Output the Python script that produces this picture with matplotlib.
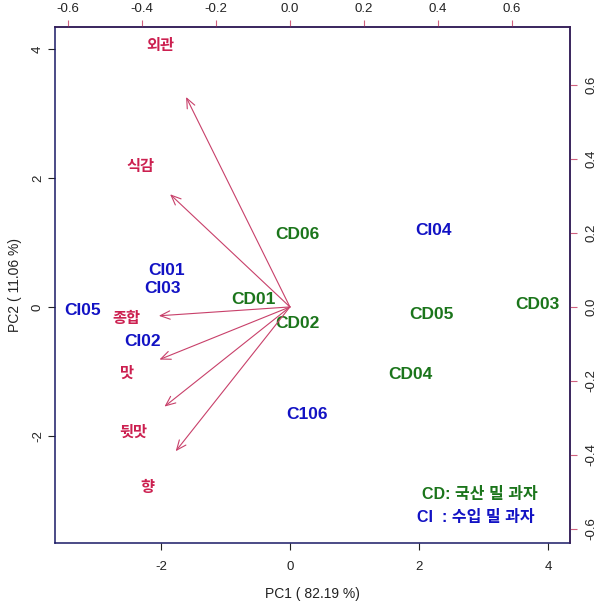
import matplotlib
matplotlib.use("Agg")
import matplotlib.pyplot as plt

plt.rcParams['font.family'] = ['Liberation Sans', 'Noto Sans CJK KR', 'DejaVu Sans']
plt.rcParams['axes.unicode_minus'] = False

# sample scores (PC1, PC2)
samples = ['CI05', 'CI01', 'CI03', 'CI02', 'CI04', 'C106',
           'CD06', 'CD01', 'CD02', 'CD05', 'CD04', 'CD03']
pc1 = [-3.21, -1.91, -1.98, -2.28, 2.22, 0.26,
       0.11, -0.57, 0.11, 2.19, 1.86, 3.84]
pc2 = [-0.05, 0.57, 0.29, -0.53, 1.19, -1.67,
       1.13, 0.12, -0.26, -0.12, -1.04, 0.03]
groups = ['CI', 'CI', 'CI', 'CI', 'CI', 'CI',
          'CD', 'CD', 'CD', 'CD', 'CD', 'CD']

# variable loadings
variables = ['외관', '식감', '종합', '맛', '뒷맛', '향']
load1 = [-0.351, -0.405, -0.443, -0.441, -0.424, -0.386]
load2 = [0.710, 0.381, -0.030, -0.178, -0.337, -0.488]

xlim = (-3.64, 4.34)
ylim = (-3.66, 4.34)
ratio = 5.73

green = '#1b751b'
blue = '#1212c4'
red = '#cc2050'
arrow_col = '#c8406a'
colors = {'CD': green, 'CI': blue}

fig = plt.figure(figsize=(6.06, 6.05), dpi=100)
pos = [55 / 606, 62 / 605, 515 / 606, 516 / 605]
ax = fig.add_axes(pos)
ax.set_xlim(xlim)
ax.set_ylim(ylim)
ax.set_xticks([-2, 0, 2, 4])
ax.set_yticks([-2, 0, 2, 4])
ax.tick_params(direction='out', length=5, width=0.8, labelsize=9.5,
               colors='#222222')
ax.tick_params(axis='x', pad=8)
ax.tick_params(axis='y', pad=3)
for lab in ax.get_yticklabels():
    lab.set_rotation(90)
    lab.set_va('center')
for s in ax.spines.values():
    s.set_color('#1a1a66')
    s.set_linewidth(1.1)
ax.set_xlabel('PC1 ( 82.19 %)', fontsize=10, color='#222222', labelpad=10)
ax.set_ylabel('PC2 ( 11.06 %)', fontsize=10, color='#222222', labelpad=7)

for name, x, y, g in zip(samples, pc1, pc2, groups):
    ax.text(x, y, name, color=colors[g], fontsize=12.5, fontweight='bold',
            ha='center', va='center')

ax.text(2.05, -2.91, 'CD: 국산 밀 과자', color=green, fontsize=11.5,
        fontweight='bold', ha='left', va='center')
ax.text(1.97, -3.26, 'CI  : 수입 밀 과자', color=blue, fontsize=11.5,
        fontweight='bold', ha='left', va='center')

# secondary axes for loadings
ax2 = fig.add_axes(pos, facecolor='none')
ax2.set_xlim(xlim[0] / ratio, xlim[1] / ratio)
ax2.set_ylim(ylim[0] / ratio, ylim[1] / ratio)
ax2.xaxis.tick_top()
ax2.yaxis.tick_right()
ticks2 = [-0.6, -0.4, -0.2, 0.0, 0.2, 0.4, 0.6]
ax2.set_xticks(ticks2)
ax2.set_yticks(ticks2)
ax2.set_xticklabels(['%.1f' % t for t in ticks2])
ax2.set_yticklabels(['%.1f' % t for t in ticks2])
ax2.tick_params(direction='out', length=5, width=0.8, labelsize=9.5,
                color='#d0607f', labelcolor='#222222', pad=6)
ax2.tick_params(axis='x', pad=4)
for lab in ax2.get_yticklabels():
    lab.set_rotation(90)
    lab.set_va('center')
for side in ['top', 'right']:
    ax2.spines[side].set_color('#3a1f55')
    ax2.spines[side].set_linewidth(1.1)
for side in ['bottom', 'left']:
    ax2.spines[side].set_visible(False)

for name, lx, ly in zip(variables, load1, load2):
    ax2.annotate('', xy=(0.8 * lx, 0.8 * ly), xytext=(0, 0),
                 arrowprops=dict(arrowstyle='->,head_length=0.7,head_width=0.3',
                                 color=arrow_col, lw=0.8,
                                 shrinkA=0, shrinkB=0))
    ax2.text(lx, ly, name, color=red, fontsize=11, fontweight='bold',
             ha='center', va='center', family=['Noto Sans CJK KR'])

fig.savefig('out.png', dpi=100)
